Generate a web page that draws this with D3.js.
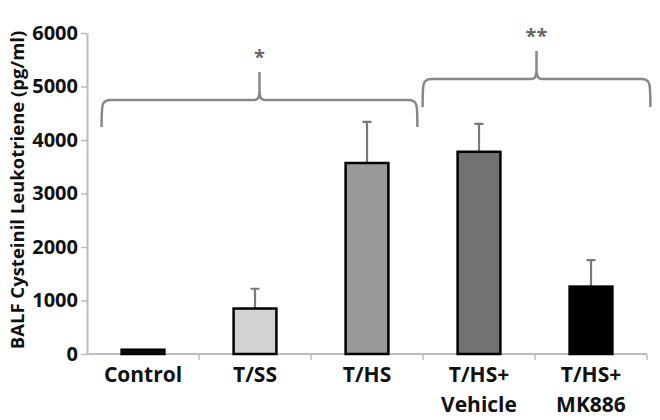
<!DOCTYPE html>
<html>
<head>
<meta charset="utf-8">
<script src="https://cdn.jsdelivr.net/npm/d3@7"></script>
<style>
  body { margin: 0; background: #fff; }
  text { font-family: "Open Sans", sans-serif; font-weight: bold; }
</style>
</head>
<body>
<script>
// chart values
var categories = ["Control", "T/SS", "T/HS", "T/HS+\nVehicle", "T/HS+\nMK886"];
var means = [80, 850, 3570, 3780, 1260];
var errors = [0, 370, 770, 520, 495];
var barColors = ["#111111", "#d2d2d2", "#999999", "#727272", "#000000"];
var yTicks = [0, 1000, 2000, 3000, 4000, 5000, 6000];
var braces = [
  { from: "Control", to: "T/HS", level: 4750, label: "*" },
  { from: "T/HS+\nVehicle", to: "T/HS+\nMK886", level: 5140, label: "**" }
];

var svgWidth = 660;
var svgHeight = 420;

var svg = d3.select("body")
  .append("svg")
  .attr("width", svgWidth)
  .attr("height", svgHeight);

var x = d3.scaleBand()
  .domain(categories)
  .range([87, 647])
  .paddingInner(0.6)
  .paddingOuter(0.3);

var y = d3.scaleLinear()
  .domain([0, 6000])
  .range([354, 33]);

var axisColor = "#bdbdbd";

// y axis
var yAxis = svg.append("g")
  .attr("transform", "translate(87,0)")
  .call(d3.axisLeft(y).tickValues(yTicks).tickFormat(d3.format("d"))
    .tickSize(6).tickPadding(3).tickSizeOuter(0));
yAxis.select(".domain").attr("stroke", axisColor).attr("stroke-width", 2);
yAxis.selectAll(".tick line").attr("stroke", axisColor).attr("stroke-width", 1.5);
yAxis.selectAll(".tick text")
  .attr("font-size", 20)
  .attr("fill", "#111");

// x axis line and tick marks between the categories
svg.append("line")
  .attr("x1", x.range()[0]).attr("x2", x.range()[1])
  .attr("y1", y(0)).attr("y2", y(0))
  .attr("stroke", axisColor).attr("stroke-width", 2);

var step = x.step();
svg.selectAll(".xtick")
  .data(categories)
  .enter()
  .append("line")
  .attr("class", "xtick")
  .attr("x1", function(d) { return x(d) + x.bandwidth() / 2 + step / 2; })
  .attr("x2", function(d) { return x(d) + x.bandwidth() / 2 + step / 2; })
  .attr("y1", y(0))
  .attr("y2", y(0) + 6)
  .attr("stroke", axisColor).attr("stroke-width", 1.5);

// category labels
var xLabels = svg.selectAll(".xlabel")
  .data(categories)
  .enter()
  .append("text")
  .attr("class", "xlabel")
  .attr("text-anchor", "middle")
  .attr("font-size", 21)
  .attr("fill", "#111")
  .attr("y", y(0) + 28);

xLabels.each(function(d) {
  var t = d3.select(this);
  d.split("\n").forEach(function(line, i) {
    t.append("tspan")
      .attr("x", x(d) + x.bandwidth() / 2)
      .attr("dy", i == 0 ? 0 : 30)
      .text(line);
  });
});

// error bars (upper only)
svg.selectAll(".err")
  .data(categories)
  .enter()
  .append("path")
  .attr("class", "err")
  .attr("d", function(d, i) {
    if (!errors[i]) return null;
    var cx = x(d) + x.bandwidth() / 2;
    var top = y(means[i] + errors[i]);
    return "M" + cx + "," + y(means[i]) + "V" + top + "M" + (cx - 4.5) + "," + top + "H" + (cx + 4.5);
  })
  .attr("fill", "none")
  .attr("stroke", "#7a7a7a")
  .attr("stroke-width", 2.2);

// bars
svg.selectAll(".bar")
  .data(categories)
  .enter()
  .append("rect")
  .attr("class", "bar")
  .attr("x", function(d) { return x(d) + 1; })
  .attr("width", x.bandwidth() - 2)
  .attr("y", function(d, i) { return y(means[i]); })
  .attr("height", function(d, i) { return y(0) - y(means[i]); })
  .attr("fill", function(d, i) { return barColors[i]; })
  .attr("stroke", "#000")
  .attr("stroke-width", 2.5);

// axis title
svg.append("text")
  .attr("transform", "translate(19," + 190 + ") rotate(-90)")
  .attr("text-anchor", "middle")
  .attr("dominant-baseline", "middle")
  .attr("font-size", 18.5)
  .attr("fill", "#111")
  .text("BALF Cysteinil Leukotriene (pg/ml)");

// significance braces
function bracePath(x0, x1, yh, yb) {
  var xm = (x0 + x1) / 2;
  var p = d3.path();
  p.moveTo(x0, yb);
  p.bezierCurveTo(x0, yh + 4, x0, yh, x0 + 9, yh);
  p.lineTo(xm - 5, yh);
  p.quadraticCurveTo(xm, yh, xm, yh - 9);
  p.lineTo(xm, yh - 28);
  p.moveTo(xm, yh - 9);
  p.quadraticCurveTo(xm, yh, xm + 5, yh);
  p.lineTo(x1 - 9, yh);
  p.bezierCurveTo(x1, yh, x1, yh + 4, x1, yb);
  return p.toString();
}

braces.forEach(function(b, i) {
  var x0 = x(b.from) - (i == 0 ? 19 : 34);
  var x1 = x(b.to) + x.bandwidth() + (i == 0 ? 28 : 37);
  var yh = y(b.level);
  svg.append("path")
    .attr("d", bracePath(x0, x1, yh, yh + (i == 0 ? 27 : 28)))
    .attr("fill", "none")
    .attr("stroke", "#888")
    .attr("stroke-width", 2.5);
  svg.append("text")
    .attr("x", (x0 + x1) / 2)
    .attr("y", yh - 36)
    .attr("text-anchor", "middle")
    .attr("font-size", 20)
    .attr("font-weight", "normal")
    .attr("fill", "#666")
    .text(b.label);
});
</script>
</body>
</html>
